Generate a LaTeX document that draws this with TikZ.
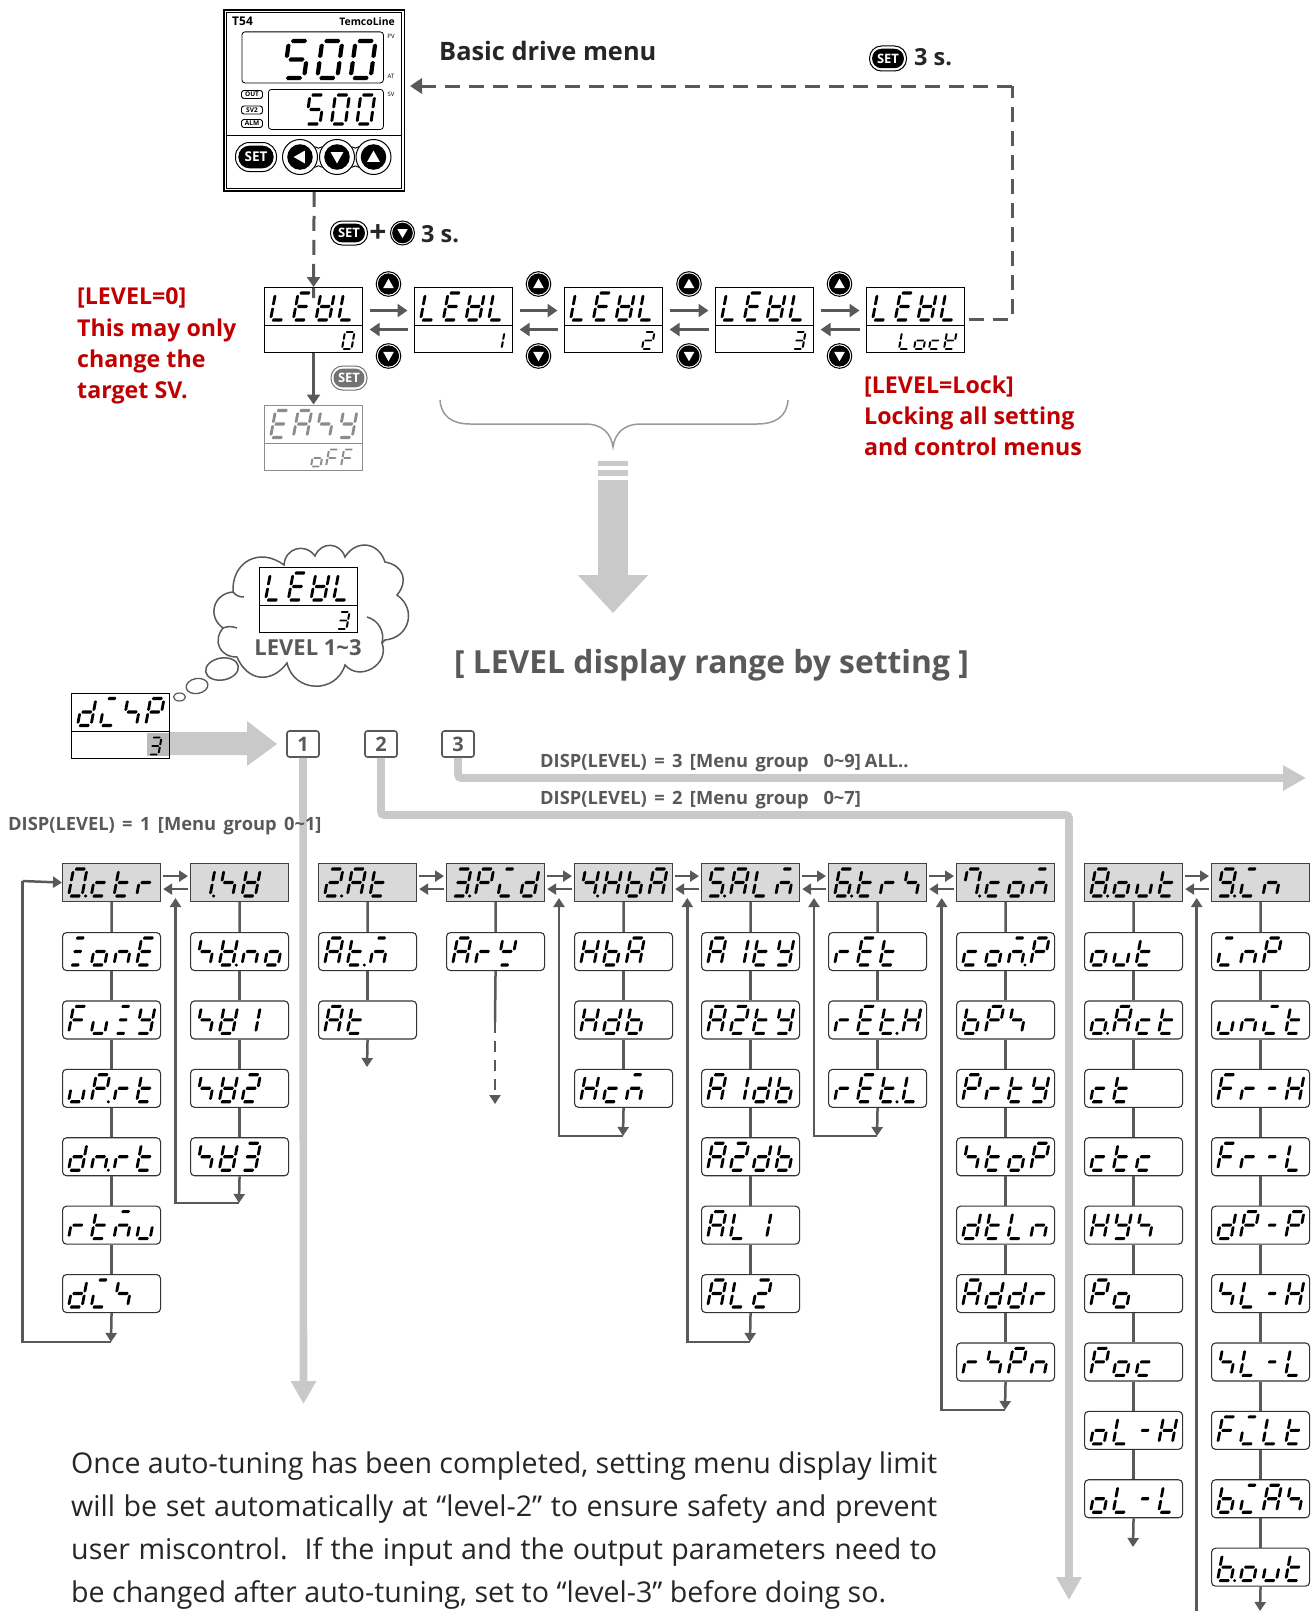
\documentclass[tikz,border=0pt]{standalone}
\usepackage{fontspec}
\setmainfont{Open Sans}
\usetikzlibrary{arrows.meta,calc,shapes.geometric}
\definecolor{dk}{HTML}{595959}
\definecolor{lg}{HTML}{C9C9C9}
\definecolor{hd}{HTML}{D9D9D9}
\definecolor{rd}{HTML}{C00000}
% seven-segment read-outs: every glyph is built from the segments below
\newdimen\segX \newdimen\segY \newdimen\segDX \newdimen\segDY
\def\segcol{black}
\newcommand\hseg[3]{(#1,#3)--(#1+.08,#3-.058)--(#2-.08,#3-.058)--(#2,#3)--(#2-.08,#3+.058)--(#1+.08,#3+.058)--cycle }
\newcommand\vseg[3]{(#1,#2)--(#1+.105,#2+.04)--(#1+.105,#3-.04)--(#1,#3)--(#1-.105,#3-.04)--(#1-.105,#2+.04)--cycle }
\edef\Sga{\hseg{.1}{.9}{0}}
\edef\Sgd{\hseg{.1}{.9}{1}}
\edef\Sgg{\hseg{.1}{.9}{.5}}
\edef\Sgh{\hseg{.18}{.82}{0}}
\edef\Sgi{\hseg{.18}{.82}{.5}}
\edef\Sgj{\hseg{.18}{.82}{1}}
\edef\Sgm{\hseg{.18}{.82}{.5}}
\edef\Sgb{\vseg{1}{.07}{.46}}
\edef\Sgc{\vseg{1}{.54}{.93}}
\edef\Sgf{\vseg{0}{.07}{.46}}
\edef\Sge{\vseg{0}{.54}{.93}}
\newcommand\defgly[2]{\expandafter\edef\csname sgmX#1\endcsname{#2}}
\defgly{_}{}
\defgly{0}{\Sga\Sgb\Sgc\Sgd\Sge\Sgf}
\defgly{1}{\Sgb\Sgc}
\defgly{2}{\Sga\Sgb\Sgg\Sge\Sgd}
\defgly{3}{\Sga\Sgb\Sgg\Sgc\Sgd}
\defgly{4}{\Sgf\Sgg\Sgb\Sgc}
\defgly{5}{\Sga\Sgf\Sgg\Sgc\Sgd}
\defgly{6}{\Sga\Sgf\Sgg\Sge\Sgc\Sgd}
\defgly{7}{\Sgf\Sga\Sgb\Sgc}
\defgly{8}{\Sga\Sgb\Sgc\Sgd\Sge\Sgf\Sgg}
\defgly{9}{\Sga\Sgb\Sgc\Sgd\Sgf\Sgg}
\defgly{A}{\Sga\Sgb\Sgc\Sge\Sgf\Sgg}
\defgly{b}{\Sgf\Sge\Sgd\Sgc\Sgg}
\defgly{c}{\Sgg\Sge\Sgd}
\defgly{d}{\Sgb\Sgc\Sgd\Sge\Sgg}
\defgly{E}{\Sga\Sgf\Sgg\Sge\Sgd}
\defgly{F}{\Sga\Sgf\Sgg\Sge}
\defgly{H}{\Sgb\Sgc\Sge\Sgf\Sgg}
\defgly{I}{\Sgh\Sge\Sgd}
\defgly{k}{\Sgf\Sge\Sgd\Sgg\Sgb}
\defgly{L}{\Sgf\Sge\Sgd}
\defgly{M}{\Sgh\Sge\Sgg\Sgc}
\defgly{n}{\Sge\Sgg\Sgc}
\defgly{o}{\Sgc\Sgd\Sge\Sgg}
\defgly{P}{\Sga\Sgb\Sge\Sgf\Sgg}
\defgly{Q}{\Sgf\Sgb\Sgg\Sgj}
\defgly{r}{\Sge\Sgg}
\defgly{S}{\Sgf\Sgg\Sgc}
\defgly{t}{\Sgf\Sgg\Sge\Sgd}
\defgly{u}{\Sgc\Sgd\Sge}
\defgly{V}{\Sgb\Sgc\Sgd\Sge\Sgf\Sgg}
\defgly{Y}{\Sgf\Sgb\Sgg\Sgc\Sgd}
\defgly{Z}{\Sgh\Sgi\Sgj}
\defgly{-}{\Sgm}
\def\segdot{%
  \segDX=\segX \advance\segDX by -\sgP pt \advance\segDX by -\sgS pt \advance\segDX by \sgW pt \advance\segDX by 3.6pt
  \segDY=\segY \advance\segDY by -\sgH pt
  \fill[fill=\segcol] (\the\segDX,\the\segDY) circle (1.7pt);}
\def\seggly#1{%
  \begin{scope}[shift={(\the\segX,\the\segY)},x={(\sgW pt,0pt)},y={(-\sgS pt,-\sgH pt)}]
  \edef\segtmp{\noexpand\fill[fill=\segcol] \csname sgmX#1\endcsname;}\segtmp
  \end{scope}\advance\segX by \sgP pt\relax}
\def\segstep#1{\ifx#1\relax\else\ifx#1.\segdot\else\seggly{#1}\fi\expandafter\segstep\fi}
% x(bottom left) y(top) w h slant pitch string
\newcommand\segtext[7]{%
  \def\sgW{#3}\def\sgH{#4}\def\sgS{#5}\def\sgP{#6}%
  \pgfmathsetlength\segX{(#1)+(#5)}\pgfmathsetlength\segY{-(#2)}%
  \edef\segarg{#7}\expandafter\segstep\segarg\relax}
\newcommand\bigseg[3]{\segtext{#1+6.5}{#2+6}{13.5}{27}{5}{22.7}{#3}}
\newcommand\lowseg[3]{\segtext{#1}{#2+45}{9.5}{17}{3}{15}{#3}}
% two-part display: name x y top lowx low
\newcommand\dispbox[6]{%
  \node[topbox,draw=\segframe] (#1) at (#2,#3) {};
  \node[botbox,draw=\segframe] (#1b) at (#2,#3+38) {};
  \bigseg{#2}{#3}{#4}
  \lowseg{#2+#5}{#3}{#6}}
\def\segframe{black}
% round button: [inner ratio] name x,y r rotation
\newcommand\rbtn[5][.86]{%
  \node[circle,draw=black,fill=white,line width=1pt,inner sep=0,minimum size=#4*2pt] (#2o) at (#3) {};
  \node[circle,fill=black,inner sep=0,minimum size=#4*2*#1 pt] (#2) at (#3) {};
  \begin{scope}[shift={(#2.center)},rotate=#5]
  \fill[white] (-#4*#1*.5,#4*#1*.38) -- (#4*#1*.5,#4*#1*.38) -- (0,-#4*#1*.5) -- cycle;
  \end{scope}}
% SET pill: name x y w h colour size
\newcommand\setpill[7]{%
  \node[rectangle,rounded corners=#5*.48pt,draw=#6,fill=white,line width=1pt,inner sep=0,minimum width=#4 pt,minimum height=#5 pt] (#1o) at (#2,#3) {};
  \node[rectangle,rounded corners=#5*.38pt,fill=#6,inner sep=0,minimum width=#4*.86pt,minimum height=#5*.78pt,text=white,font=\bfseries\fontsize{#7}{#7}\selectfont] (#1) at (#2,#3) {SET};}
\newcommand\dispfont{\bfseries\fontsize{18.3}{18.3}\selectfont\spaceskip=7.4pt\relax}
\tikzset{
  topbox/.style={rectangle,anchor=north west,line width=1.1pt,inner sep=0,minimum width=98pt,minimum height=38pt},
  botbox/.style={rectangle,anchor=north west,line width=1.1pt,inner sep=0,minimum width=98pt,minimum height=27pt},
  hdbox/.style={rectangle,anchor=north west,draw=black!75,fill=hd,line width=1.2pt,inner sep=0,minimum width=98pt,minimum height=38pt},
  itbox/.style={rectangle,rounded corners=4pt,anchor=north west,draw=black!80,fill=white,line width=1.1pt,inner sep=0,minimum width=98pt,minimum height=38pt},
  arr/.style={draw=dk,line width=2.8pt,-{Triangle[length=10pt,width=13pt]}},
  menuarr/.style={draw=dk,line width=2.5pt,-{Triangle[length=9pt,width=11pt]}},
  vline/.style={draw=dk,line width=2.5pt},
  dashline/.style={draw=dk,line width=3pt,dash pattern=on 15pt off 9pt},
  gband/.style={draw=lg,line width=7.6pt,rounded corners=3pt,-{Triangle[length=23pt,width=24pt]}},
  redt/.style={anchor=base west,text=rd,font=\bfseries\fontsize{23.2}{23.2}\selectfont,inner sep=0},
  keyt/.style={anchor=base west,text=black!85,font=\bfseries\fontsize{23.5}{23.5}\selectfont,inner sep=0},
  dispt/.style={anchor=base west,text=dk,font=\dispfont,inner sep=0},
  numbox/.style={rectangle,rounded corners=2.5pt,draw=dk,fill=white,line width=1.6pt,minimum width=32pt,minimum height=26pt,inner sep=0,text=dk,font=\bfseries\fontsize{20}{20}\selectfont},
  bodyt/.style={anchor=base west,text=black!85,font=\fontsize{28.6}{30}\selectfont,inner sep=0},
  tiny/.style={inner sep=0,text=black,font=\fontsize{6}{6}\selectfont},
  pilltxt/.style={rectangle,rounded corners=2.5pt,draw=black,line width=.9pt,minimum width=21pt,minimum height=8pt,inner sep=0,font=\bfseries\fontsize{6.5}{6.5}\selectfont},
  cloudl/.style={draw=black!65,line width=1.5pt}
}
\begin{document}
\begin{tikzpicture}[x=1pt,y=-1pt]
\path[use as bounding box,fill=white] (0,0) rectangle (1316,1611);

% ---- device
\node[rectangle,anchor=north west,draw=black,line width=1.8pt,fill=white,minimum width=180.5pt,minimum height=180.5pt,inner sep=0] (dev) at (223,9.5) {};
\node[rectangle,anchor=north west,draw=black,line width=.8pt,minimum width=175.5pt,minimum height=175.5pt,inner sep=0] (devin) at (225.5,12) {};
\draw[line width=1pt] (225.5,135) -- (401,135);
\node[anchor=west,inner sep=0,font=\bfseries\fontsize{12}{12}\selectfont] (t54) at (232,21.5) {T54};
\node[anchor=east,inner sep=0,font=\bfseries\fontsize{10.4}{10.4}\selectfont] (tcl) at (395,21.5) {TemcoLine};
\node[rectangle,anchor=north west,rounded corners=3pt,draw=black,line width=.8pt,minimum width=141.5pt,minimum height=51pt,inner sep=0] (pvb) at (241.5,31.5) {};
\node[rectangle,anchor=north west,rounded corners=3pt,draw=black,line width=.8pt,minimum width=115pt,minimum height=40pt,inner sep=0] (svb) at (268,89) {};
\node[tiny] (pvt) at (391,36) {PV};
\node[tiny] (att) at (391,76) {AT};
\node[tiny] (svt) at (391,94) {SV};
\node[pilltxt] (outp) at (252,94.5) {OUT};
\node[pilltxt] (sv2p) at (252,110) {SV2};
\node[pilltxt] (almp) at (252,123.5) {ALM};
\segtext{284}{41}{20}{37}{5}{33.3}{500}
\segtext{306}{95}{14}{29}{4}{25.4}{500}
\setpill{dset}{256}{157}{41}{29}{black}{13.5}
\rbtn[.73]{dbl}{300,157}{17.5}{90}
\rbtn[.73]{dbd}{337,157}{17.5}{180}
\rbtn[.73]{dbu}{373.5,157}{17.5}{0}
\draw[line width=.9pt] (dblo.35) to[bend right=45] (dbdo.145) (dblo.-35) to[bend left=45] (dbdo.-145)
      (dbdo.35) to[bend right=45] (dbuo.145) (dbdo.-35) to[bend left=45] (dbuo.-145);

\node[anchor=base west,inner sep=0,text=black!85,font=\bfseries\fontsize{25.4}{25.4}\selectfont] (bdm) at (439,61) {Basic drive menu};

% ---- level row
\dispbox{lev0}{264}{287}{LEVL}{78}{0}
\dispbox{lev1}{414}{287}{LEVL}{78}{1}
\dispbox{lev2}{564}{287}{LEVL}{78}{2}
\dispbox{lev3}{715}{287}{LEVL}{78}{3}
\dispbox{levl}{866}{287}{LEVL}{33}{Lock}
\foreach \a/\b/\n/\bx in {lev0/lev1/1/388.5,lev1/lev2/2/538.5,lev2/lev3/3/689,lev3/levl/4/839.5}{
  \draw[arr] ([shift={(6.5pt,-4pt)}]\a.east) -- ([shift={(-6.5pt,-4pt)}]\b.west);
  \draw[arr] ([shift={(-6.5pt,-23pt)}]\b.west) -- ([shift={(6.5pt,-23pt)}]\a.east);
  \rbtn{up\n}{\bx,284}{12.3}{0}
  \rbtn{dn\n}{\bx,356}{12.3}{180}
}
\begingroup\def\segframe{black!45}\def\segcol{black!45}
\dispbox{easy}{264}{404.5}{EASY}{47}{oFF}
\endgroup
\draw[arr] (lev0b.south) -- (easy.north);
\setpill{gset}{349}{378}{36}{24}{black!55}{13}
\coordinate (dtop) at (410,86);
\coordinate (dcorn) at (1012,86);
\draw[dashline] ([shift={(4pt,6pt)}]levlb.north east) -- (1012,319) -- (dcorn);
\draw[dk,line width=3pt,dash pattern=on 15pt off 9pt,-{Triangle[length=12pt,width=15pt]}] (dcorn) -- (dtop);
\draw[dk,line width=3pt,dash pattern=on 15pt off 9pt] (dev.south) -- ($(lev0.north)+(0,-11pt)$);
\draw[draw=dk,line width=2.8pt,-{Triangle[length=10pt,width=13pt]}] ($(lev0.north)+(0,13pt)$) -- (lev0.north);

% ---- key legends
\setpill{sset}{888}{58.5}{37}{25}{black}{13}
\node[keyt] (t3a) at (914,66) {3 s.};
\setpill{kset}{349}{233}{37}{24}{black}{13}
\node[inner sep=0,text=black!85,font=\bfseries\fontsize{30}{30}\selectfont] (plus) at (378,234) {+};
\rbtn{kdn}{402.5,233}{12}{180}
\node[keyt] (t3b) at (421,242) {3 s.};

\node[redt] (r1) at (77,304) {[LEVEL=0]};
\node[redt] (r2) at (77,336) {This may only};
\node[redt] (r3) at (77,367) {change the};
\node[redt] (r4) at (77,398) {target SV.};
\node[redt] (r5) at (864,393) {[LEVEL=Lock]};
\node[redt] (r6) at (864,424) {Locking all setting};
\node[redt] (r7) at (864,455) {and control menus};

% ---- brace and big arrow
\coordinate (bl) at (440,400);
\coordinate (br) at (788,400);
\coordinate (bt) at (613,447);
\draw[draw=black!40,line width=1.5pt] (bl) .. controls (441,416) and (452,424) .. (470,424) -- (585,424) .. controls (602,424) and (611,433) .. (bt) .. controls (615,433) and (624,424) .. (641,424) -- (757,424) .. controls (776,424) and (787,416) .. (br);
\fill[lg] (598,461) rectangle (628,466);
\fill[lg] (598,470) rectangle (628,476);
\coordinate (bas) at (613,480);
\coordinate (bae) at (613,613);
\draw[draw=lg,line width=30pt,-{Triangle[length=38pt,width=68pt]}] (bas) -- (bae);
\node[anchor=base west,inner sep=0,text=dk,font=\bfseries\fontsize{31.8}{31.8}\selectfont] (rng) at (454,673) {[ LEVEL display range by setting ]};

% ---- cloud
\begin{scope}[every to/.append style={looseness=1.35}]
\draw[cloudl,fill=white] (233,592) to[bend left=65] (284,565) to[bend left=70] (315,556) to[bend left=70] (345,557) to[bend left=65] (385,562) to[bend left=60] (397,595) to[bend left=70] (385,640) to[bend left=10] (382,643) to[bend left=80] (345,665) to[bend left=75] (287,663) to[bend left=60] (237,657) to[bend left=65] (223,628) to[bend left=70] (233,592);
\end{scope}
\draw[cloudl] (367,617) to[bend left=45] (382,643);
\draw[cloudl] (233,592) to[bend right=25] (244,597);
\draw[cloudl] (223,628) to[bend left=20] (237,628);
\node[draw=black!65,line width=1.5pt,ellipse,inner sep=0,minimum width=33pt,minimum height=22pt,rotate=10,fill=white] (bub1) at (222,669) {};
\node[draw=black!65,line width=1.3pt,ellipse,inner sep=0,minimum width=22pt,minimum height=15pt,rotate=10,fill=white] (bub2) at (197,686) {};
\node[draw=black!65,line width=1.2pt,ellipse,inner sep=0,minimum width=12pt,minimum height=8pt,fill=white] (bub3) at (179.5,697) {};
\dispbox{lc}{259}{567}{LEVL}{78}{3}
\node[inner sep=0,text=dk,font=\bfseries\fontsize{22}{22}\selectfont] (lr) at (308,648) {LEVEL 1\textasciitilde 3};

% ---- disp box and bands
\fill[lg] (169,732) -- (247,732) -- (247,721) -- (277,744) -- (247,766) -- (247,755) -- (169,755) -- cycle;
\fill[black!27] (147,733) rectangle (169,756);
\dispbox{dsp}{71}{692.5}{dISP}{78}{3}
\node[numbox] (n1) at (303,744) {1};
\node[numbox] (n2) at (381,744) {2};
\node[numbox] (n3) at (458,744) {3};
\coordinate (g1e) at (303.5,1404);
\coordinate (g2a) at (1069,815);
\coordinate (g2e) at (1069,1600);
\coordinate (g3a) at (457,778);
\coordinate (g3e) at (1306,778);
\draw[gband] (n1.south) -- (g1e);
\draw[gband] (n2.south) |- (g2a) -- (g2e);
\draw[gband] (n3.south) |- (g3e);
\node[dispt] (d3) at (540,767) {DISP(LEVEL) = 3 [Menu group\ \ 0\textasciitilde 9]\hspace{4pt}ALL..};
\node[dispt] (d2) at (540,804.5) {DISP(LEVEL) = 2 [Menu group\ \ 0\textasciitilde 7]};
\node[dispt] (d1) at (8,830.5) {DISP(LEVEL) = 1 [Menu group 0\textasciitilde 1]};

% ---- menu columns
\foreach \k/\cx/\head/\items in {
  0/62/0.ctr/{ZonE,FuZY,uP.rt,dn.rt,rtMu,dIS},
  1/190/1.SV/{SV.no,SV1,SV2,SV3},
  2/318/2.At/{At.M,At},
  3/446/3.PId/{ArQ},
  4/574/4.HbA/{HbA,Hdb,HcM},
  5/701/5.ALM/{A1tY,A2tY,A1db,A2db,AL1,AL2},
  6/828/6.trS/{rEt,rEt.H,rEt.L},
  7/956/7.coM/{coM.P,bPS,PrtY,StoP,dtLn,Addr,rSPn},
  8/1084/8.out/{out,o.Act,ct,ctc,HYS,Po,Poc,oL-H,oL-L},
  9/1211/9.In/{InP,unIt,Fr-H,Fr-L,dP-P,SL-H,SL-L,FILt,bIAS,b.out}}{
  \node[hdbox] (c\k r0) at (\cx,863) {};
  \bigseg{\cx}{863}{\head}
  \foreach \t [count=\r,remember=\r as \p (initially 0)] in \items {
    \pgfmathsetmacro\ry{932+68.4*(\r-1)}
    \node[itbox] (c\k r\r) at (\cx,\ry) {};
    \bigseg{\cx}{\ry}{\t}
    \draw[vline] (c\k r\p.south) -- (c\k r\r.north);
  }
}
\foreach \a/\b in {0/1,2/3,3/4,4/5,5/6,6/7,8/9}{
  \draw[menuarr] ([shift={(2pt,6.5pt)}]c\a r0.east) -- ([shift={(-2pt,6.5pt)}]c\b r0.west);
  \draw[menuarr] ([shift={(-2pt,-6.5pt)}]c\b r0.west) -- ([shift={(2pt,-6.5pt)}]c\a r0.east);
}
% loops
\coordinate (l0a) at (111,1342);
\draw[menuarr] (c0r6.south) -- (l0a);
\draw[vline] (l0a) -- (22.5,1342) -- (22.5,881) ;
\draw[menuarr] (22.5,881) -- (c0r0.west);
\newcommand\backloop[4]{% last-node column-centre loopy upto x
  \coordinate (la#1) at (#2,#3);
  \draw[menuarr] (#1.south) -- (la#1);
  \draw[draw=dk,line width=2.5pt,-{Triangle[length=9pt,width=11pt]}] (la#1) -- (#4,#3) -- (#4,898);}
\backloop{c1r4}{239}{1203}{175.5}
\backloop{c4r3}{623}{1136}{559}
\backloop{c5r6}{750}{1342}{687.3}
\backloop{c6r3}{877}{1136}{814}
\backloop{c7r7}{1005}{1410}{941.7}
\coordinate (l9) at (1196.7,1611);
\draw[menuarr] (l9) -- (1196.7,898);
\coordinate (e2) at (367,1067);
\draw[menuarr] (c2r2.south) -- (e2);
\coordinate (e3a) at (495,1022);
\coordinate (e3) at (495,1104);
\draw[vline] (c3r1.south) -- (e3a);
\draw[draw=dk,line width=2.5pt,dash pattern=on 11pt off 8pt,-{Triangle[length=9pt,width=11pt]}] (e3a) -- (e3);
\coordinate (e8) at (1133,1547);
\draw[menuarr] (c8r9.south) -- (e8);
\coordinate (e9) at (1260,1611);
\draw[menuarr] (c9r10.south) -- (e9);

% ---- paragraph
\node[bodyt] (p1) at (71,1473) {\makebox[866pt][s]{Once auto-tuning has been completed, setting menu display limit}};
\node[bodyt] (p2) at (71,1516) {\makebox[866pt][s]{will be set automatically at “level-2” to ensure safety and prevent}};
\node[bodyt] (p3) at (71,1559) {\makebox[866pt][s]{user miscontrol.\ \ If the input and the output parameters need to}};
\node[bodyt] (p4) at (71,1602) {be changed after auto-tuning, set to “level-3” before doing so.};
\end{tikzpicture}
\end{document}
